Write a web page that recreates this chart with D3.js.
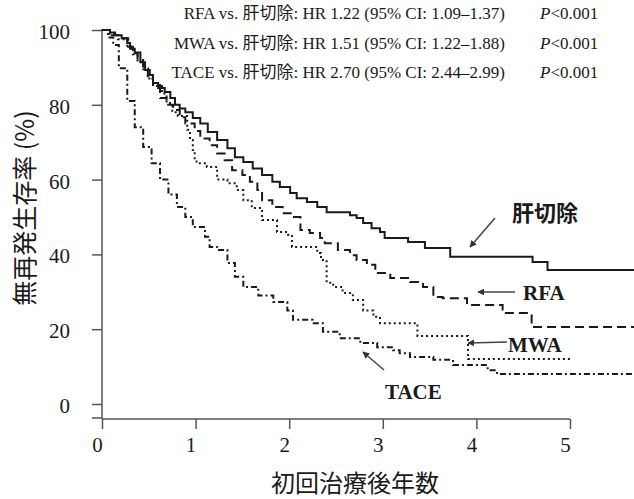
<!DOCTYPE html>
<html><head><meta charset="utf-8">
<script src="https://cdn.jsdelivr.net/npm/d3@7"></script>
<style>
html,body{margin:0;padding:0;background:#fff;}
svg{display:block;}
</style></head>
<body>
<svg id="chart" width="634" height="499"></svg>
<script>
// ---- data (years, survival %) ----
const hepatectomy = [[0,100],[0.085,99.3],[0.14,98.6],[0.21,97.8],[0.27,96.5],[0.30,95],[0.35,94],[0.41,91.4],[0.46,89.3],[0.51,88],[0.545,85.8],[0.60,84.5],[0.67,83.4],[0.73,81.8],[0.78,80],[0.83,79],[0.89,78],[0.97,76.5],[1.05,75],[1.13,72.7],[1.23,70.6],[1.34,68.4],[1.42,66],[1.51,64.7],[1.61,63],[1.71,61.2],[1.82,59.4],[1.90,58],[2.01,56.4],[2.08,55],[2.19,54],[2.30,52.7],[2.40,51.3],[2.65,50.5],[2.72,49.7],[2.79,48.4],[2.88,47],[2.97,46],[3.02,44.4],[3.27,43.3],[3.45,41.7],[3.72,39.4],[4.60,38],[4.76,35.8],[5.7,35.8]];
const rfa = [[0,100],[0.085,98.6],[0.19,97.8],[0.28,95.5],[0.33,93.8],[0.38,92],[0.44,89.8],[0.49,87],[0.545,85.3],[0.62,81.8],[0.69,80],[0.76,78.6],[0.83,76.7],[0.89,75],[0.99,73],[1.05,71],[1.15,69.2],[1.23,67],[1.31,65.2],[1.39,62.5],[1.50,61.2],[1.58,59.4],[1.66,57.2],[1.71,54.5],[1.82,52.7],[1.93,51],[2.03,50],[2.12,46.5],[2.22,45.7],[2.33,44.4],[2.38,43],[2.52,41.2],[2.65,39.8],[2.72,38.5],[2.83,37.2],[2.92,35],[3.08,33.7],[3.29,32.6],[3.43,31.3],[3.54,28.6],[3.64,28.3],[3.90,26.5],[4.28,24.3],[4.59,20.6],[5.7,20.6]];
const mwa = [[0,100],[0.085,99],[0.17,97.5],[0.27,95.5],[0.33,93.5],[0.38,91.5],[0.44,89.5],[0.49,87],[0.545,85],[0.64,83],[0.69,80.5],[0.75,78],[0.81,77],[0.91,73.3],[0.94,70.6],[0.97,67.9],[0.99,65.2],[1.01,64.4],[1.12,63.4],[1.23,60],[1.34,59],[1.44,57.2],[1.51,54.5],[1.60,52.4],[1.71,49.2],[1.87,46],[1.99,45.2],[2.03,42],[2.30,40.4],[2.34,38.5],[2.40,32.4],[2.47,31.3],[2.57,29.7],[2.68,27.8],[2.79,25],[2.90,23.3],[2.97,21.6],[3.37,18.2],[3.91,12],[5.0,12]];
const tace = [[0,100],[0.064,98],[0.12,96],[0.18,89.8],[0.27,81],[0.35,74],[0.44,68.7],[0.53,64.4],[0.62,60],[0.71,56],[0.80,52.7],[0.89,50],[0.97,47.3],[1.10,44.7],[1.15,42],[1.23,41.2],[1.34,37.7],[1.42,34],[1.51,31.3],[1.67,29],[1.83,27.3],[1.98,25],[2.04,22.5],[2.25,21.6],[2.36,19.3],[2.54,17.6],[2.76,16.3],[2.94,15.2],[3.11,14.4],[3.18,13.6],[3.29,12.6],[3.54,11.8],[3.75,10.4],[4.12,9],[4.22,8],[5.7,8]];

const xTicks = [0,1,2,3,4,5];
const yTicks = [0,20,40,60,80,100];
const hrLines = ["RFA vs. 肝切除: HR 1.22 (95% CI: 1.09–1.37)","MWA vs. 肝切除: HR 1.51 (95% CI: 1.22–1.88)","TACE vs. 肝切除: HR 2.70 (95% CI: 2.44–2.99)"];
const pLabels = ["<0.001","<0.001","<0.001"];
const xTitle = "初回治療後年数";
const yTitle = "無再発生存率 (%)";

// ---- drawing ----
const svg = d3.select("#chart");
const x = d3.scaleLinear().domain([0,5]).range([102,570]);
const y = d3.scaleLinear().domain([0,100]).range([404,30]);
const serif = "'Liberation Serif','Times New Roman','Noto Sans CJK JP',serif";
const sans = "'Noto Sans CJK JP','Noto Sans',sans-serif";
const ink = "#1a1a1a";
const axisCol = "#555";

// x axis
const gx = svg.append("g").attr("transform","translate(0,419)")
  .call(d3.axisBottom(x).tickValues(xTicks).tickSize(10).tickSizeOuter(0).tickFormat(d3.format("d")));
gx.select(".domain").attr("stroke",axisCol).attr("stroke-width",1.5).attr("d","M102,0H570");
gx.selectAll(".tick line").attr("stroke",axisCol).attr("stroke-width",1.5);
gx.selectAll(".tick text").attr("font-family",serif).attr("font-size",21).attr("fill",ink)
  .attr("dx",-5).attr("y",18);

// y axis
const gy = svg.append("g").attr("transform","translate(102,0)")
  .call(d3.axisLeft(y).tickValues(yTicks).tickSize(10).tickSizeOuter(0));
gy.select(".domain").attr("stroke",axisCol).attr("stroke-width",1.5).attr("d","M0,29V419");
gy.selectAll(".tick line").attr("stroke",axisCol).attr("stroke-width",1.5);
gy.selectAll(".tick text").attr("font-family",serif).attr("font-size",21).attr("fill",ink)
  .attr("x",-32).attr("dy","0.4em");
svg.append("line").attr("x1",92).attr("x2",102).attr("y1",418).attr("y2",418)
  .attr("stroke",axisCol).attr("stroke-width",1.5);

// curves
const line = d3.line().x(d=>x(d[0])).y(d=>y(d[1])).curve(d3.curveStepAfter);
const series = [
  {data:tace, dash:"6,3,2,3"},
  {data:mwa, dash:"2,3"},
  {data:rfa, dash:"9,5"},
  {data:hepatectomy, dash:null}
];
series.forEach(s=>{
  svg.append("path").attr("d",line(s.data)).attr("fill","none")
    .attr("stroke",ink).attr("stroke-width",2)
    .attr("stroke-dasharray",s.dash);
});

// HR annotations
const rowY = [19,49,78];
hrLines.forEach((t,i)=>{
  svg.append("text").attr("x",505).attr("y",rowY[i]).attr("text-anchor","end")
    .attr("font-family",serif).attr("font-size",17).attr("fill",ink).text(t);
  const p = svg.append("text").attr("x",540).attr("y",rowY[i])
    .attr("font-family",serif).attr("font-size",17).attr("fill",ink);
  p.append("tspan").attr("font-style","italic").text("P");
  p.append("tspan").text(pLabels[i]);
});

// arrows
svg.append("defs").append("marker").attr("id","ah").attr("viewBox","0 0 10 10")
  .attr("refX",9).attr("refY",5).attr("markerWidth",7).attr("markerHeight",7)
  .attr("markerUnits","userSpaceOnUse").attr("orient","auto")
  .append("path").attr("d","M0,0L10,5L0,10z").attr("fill","#333");
const arrows = [
  [495,218,470,247],[515,292,478,292],[507,342,468,343],[384,370,363,352]
];
arrows.forEach(a=>{
  svg.append("line").attr("x1",a[0]).attr("y1",a[1]).attr("x2",a[2]).attr("y2",a[3])
    .attr("stroke","#444").attr("stroke-width",1.5).attr("marker-end","url(#ah)");
});
// series labels
svg.append("text").attr("x",512).attr("y",221).attr("font-family",sans)
  .attr("font-weight","bold").attr("font-size",22).attr("fill",ink).text("肝切除");
[["RFA",523,300],["MWA",508,352],["TACE",385,399]].forEach(l=>{
  svg.append("text").attr("x",l[1]).attr("y",l[2]).attr("font-family",serif)
    .attr("font-weight","bold").attr("font-size",21).attr("fill",ink).text(l[0]);
});

// axis titles
svg.append("text").attr("x",355).attr("y",492).attr("text-anchor","middle")
  .attr("font-family",sans).attr("font-size",24).attr("fill",ink).text(xTitle);
svg.append("text").attr("transform","translate(34,208) rotate(-90)").attr("text-anchor","middle")
  .attr("font-family",sans).attr("font-size",25).attr("fill",ink).text(yTitle);
</script>
</body></html>
